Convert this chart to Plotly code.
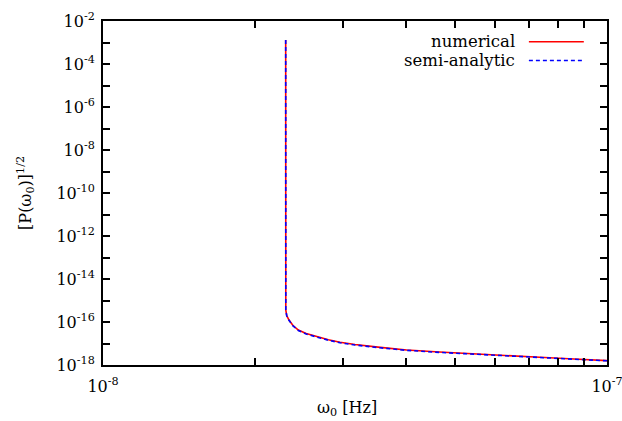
import plotly.graph_objects as go

# Data (log-log)
omega = [2.3040e-8, 2.3045e-8, 2.305e-8, 2.315e-8, 2.339e-8, 2.38e-8, 2.441e-8, 2.53e-8,
         2.634e-8, 2.80e-8, 2.953e-8, 3.162e-8, 3.55e-8, 4.005e-8, 4.65e-8, 5.42e-8,
         6.30e-8, 7.36e-8, 8.60e-8, 1.0e-7]
numerical = [1.3e-3, 1.0e-15, 3.6e-16, 2.0e-16, 1.23e-16, 7.0e-17, 4.2e-17, 2.9e-17,
             2.2e-17, 1.5e-17, 1.15e-17, 9.0e-18, 6.6e-18, 5.0e-18, 4.0e-18, 3.25e-18,
             2.7e-18, 2.28e-18, 1.9e-18, 1.6e-18]
semi_analytic = [1.3e-3, 1.0e-15, 3.5e-16, 1.95e-16, 1.2e-16, 6.8e-17, 4.0e-17, 2.75e-17,
                 2.08e-17, 1.42e-17, 1.08e-17, 8.5e-18, 6.3e-18, 4.8e-18, 3.85e-18, 3.15e-18,
                 2.63e-18, 2.22e-18, 1.86e-18, 1.57e-18]

x_tickvals = [1e-8, 2e-8, 3e-8, 4e-8, 5e-8, 6e-8, 7e-8, 8e-8, 9e-8, 1e-7]
x_ticktext = ["10<sup>-8</sup>", "", "", "", "", "", "", "", "", "10<sup>-7</sup>"]
y_exps = list(range(-18, -1))
y_tickvals = [10.0 ** e for e in y_exps]
y_ticktext = [("10<sup>%d</sup>" % e) if e % 2 == 0 else "" for e in y_exps]

FONT = "DejaVu Serif"

fig = go.Figure()
fig.add_trace(go.Scatter(x=omega, y=numerical, mode="lines", name="numerical",
                         line=dict(color="#ff0000", width=1.6), showlegend=False))
fig.add_trace(go.Scatter(x=omega, y=semi_analytic, mode="lines", name="semi-analytic",
                         line=dict(color="#0000ff", width=1.6, dash="4px,3px"), showlegend=False))

axis_common = dict(showline=True, linecolor="black", linewidth=2, mirror="ticks",
                   ticks="inside", ticklen=7, tickwidth=1.5, tickcolor="black",
                   showgrid=False, zeroline=False, type="log", automargin=False,
                   ticklabeloverflow="allow",
                   tickfont=dict(family=FONT, size=16, color="black"))

fig.update_xaxes(range=[-8, -7], tickvals=x_tickvals, ticktext=x_ticktext,
                 ticklabelstandoff=6, **axis_common)
fig.update_yaxes(range=[-18, -2], tickvals=y_tickvals, ticktext=y_ticktext,
                 ticklabelstandoff=3, **axis_common)

# axis titles
fig.add_annotation(x=0.484, y=-0.125, xref="paper", yref="paper",
                   text="ω<sub>0</sub> [Hz]", showarrow=False,
                   xanchor="center", yanchor="middle",
                   font=dict(family=FONT, size=16, color="black"))
fig.add_annotation(x=-0.155, y=0.5, xref="paper", yref="paper",
                   text="[P(ω<sub>0</sub>)]<sup>1/2</sup>", showarrow=False, textangle=-90,
                   xanchor="center", yanchor="middle",
                   font=dict(family=FONT, size=16, color="black"))

# gnuplot-style legend: text on left, line sample on right
legend_entries = [("numerical", 0.940, "#ff0000", "solid"),
                  ("semi-analytic", 0.885, "#0000ff", "4px,3px")]
for text, yp, col, dash in legend_entries:
    fig.add_annotation(x=0.821, y=yp, xref="paper", yref="paper", text=text,
                       showarrow=False, xanchor="right", yanchor="middle",
                       font=dict(family=FONT, size=16.5, color="black"))
    fig.add_shape(type="line", xref="paper", yref="paper", x0=0.845, x1=0.954,
                  y0=yp, y1=yp, line=dict(color=col, width=1.5, dash=dash))

fig.update_layout(width=622, height=421, margin=dict(l=103, r=15, t=21, b=56),
                  paper_bgcolor="white", plot_bgcolor="white",
                  font=dict(family=FONT, size=16, color="black"))

fig.write_html("out.html", config={"displayModeBar": False},
               post_script="document.body.style.margin='0';document.body.style.padding='0';")
